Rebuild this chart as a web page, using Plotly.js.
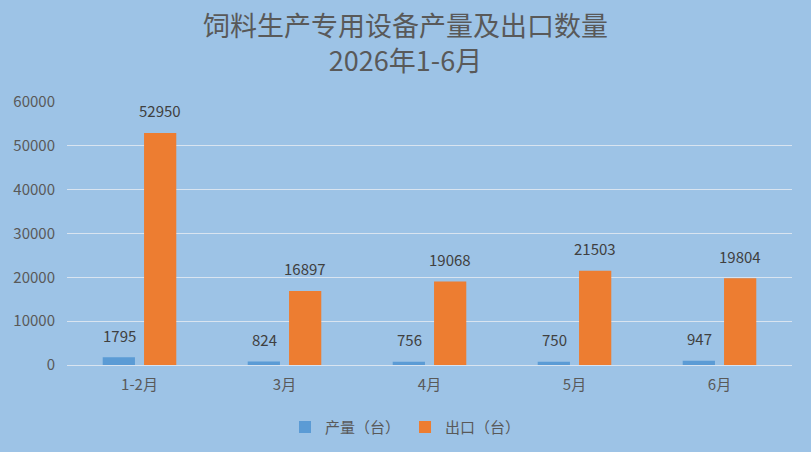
<!DOCTYPE html>
<html>
<head>
<meta charset="utf-8">
<script src="https://cdn.plot.ly/plotly-3.0.1.min.js"></script>
<style>body{margin:0;background:#9DC3E6}</style>
</head>
<body>
<div id="plot" style="width:811px;height:452px"></div>
<script>
var months = ['1-2月', '3月', '4月', '5月', '6月'];
var output = [1795, 824, 756, 750, 947];
var exports = [52950, 16897, 19068, 21503, 19804];
var yTicks = [0, 10000, 20000, 30000, 40000, 50000, 60000];

var font = '"Liberation Sans Narrow", "Noto Sans CJK SC", sans-serif';
var grey = '#595959';

var trace1 = {
    x: months, y: output, name: '产量（台）', type: 'bar',
    marker: {color: '#5B9BD5'}
};
var trace2 = {
    x: months, y: exports, name: '出口（台）', type: 'bar',
    marker: {color: '#ED7D31'}
};

// value labels above each bar
var notes = [];
months.forEach(function (m, i) {
    notes.push({x: m, y: output[i], text: String(output[i]), xref: 'x', yref: 'y',
        showarrow: false, xshift: -20, yshift: 22, font: {size: 15, color: '#404040', family: font}});
    notes.push({x: m, y: exports[i], text: String(exports[i]), xref: 'x', yref: 'y',
        showarrow: false, xshift: 20, yshift: 22, font: {size: 15, color: '#404040', family: font}});
});

var layout = {
    title: {
        text: '饲料生产专用设备产量及出口数量<br>2026年1-6月',
        font: {size: 27, color: grey, family: font},
        x: 0.5, xref: 'container', y: 0.92, yref: 'container', yanchor: 'middle'
    },
    paper_bgcolor: '#9DC3E6',
    plot_bgcolor: '#9DC3E6',
    width: 811, height: 452,
    margin: {l: 67, r: 19, t: 102, b: 87},
    bargap: 0.43,
    bargroupgap: 0.22,
    xaxis: {
        tickfont: {size: 15, color: grey, family: font},
        showline: true, linecolor: '#D9E4F0', linewidth: 1,
        ticks: 'outside', ticklen: 6, tickcolor: 'rgba(0,0,0,0)'
    },
    yaxis: {
        range: [0, 60000], tickvals: yTicks, ticktext: yTicks.map(String),
        tickfont: {size: 15, color: grey, family: font},
        gridcolor: '#D9E4F0', gridwidth: 1, zeroline: false,
        ticks: 'outside', ticklen: 8, tickcolor: 'rgba(0,0,0,0)'
    },
    legend: {
        orientation: 'h', x: 0.5, xref: 'container', xanchor: 'center',
        y: 0.055, yref: 'container', yanchor: 'middle',
        itemwidth: 30, tracegroupgap: 0,
        font: {size: 15, color: grey, family: font}
    },
    annotations: notes,
    showlegend: true
};

Plotly.newPlot('plot', [trace1, trace2], layout, {displayModeBar: false});
</script>
</body>
</html>
